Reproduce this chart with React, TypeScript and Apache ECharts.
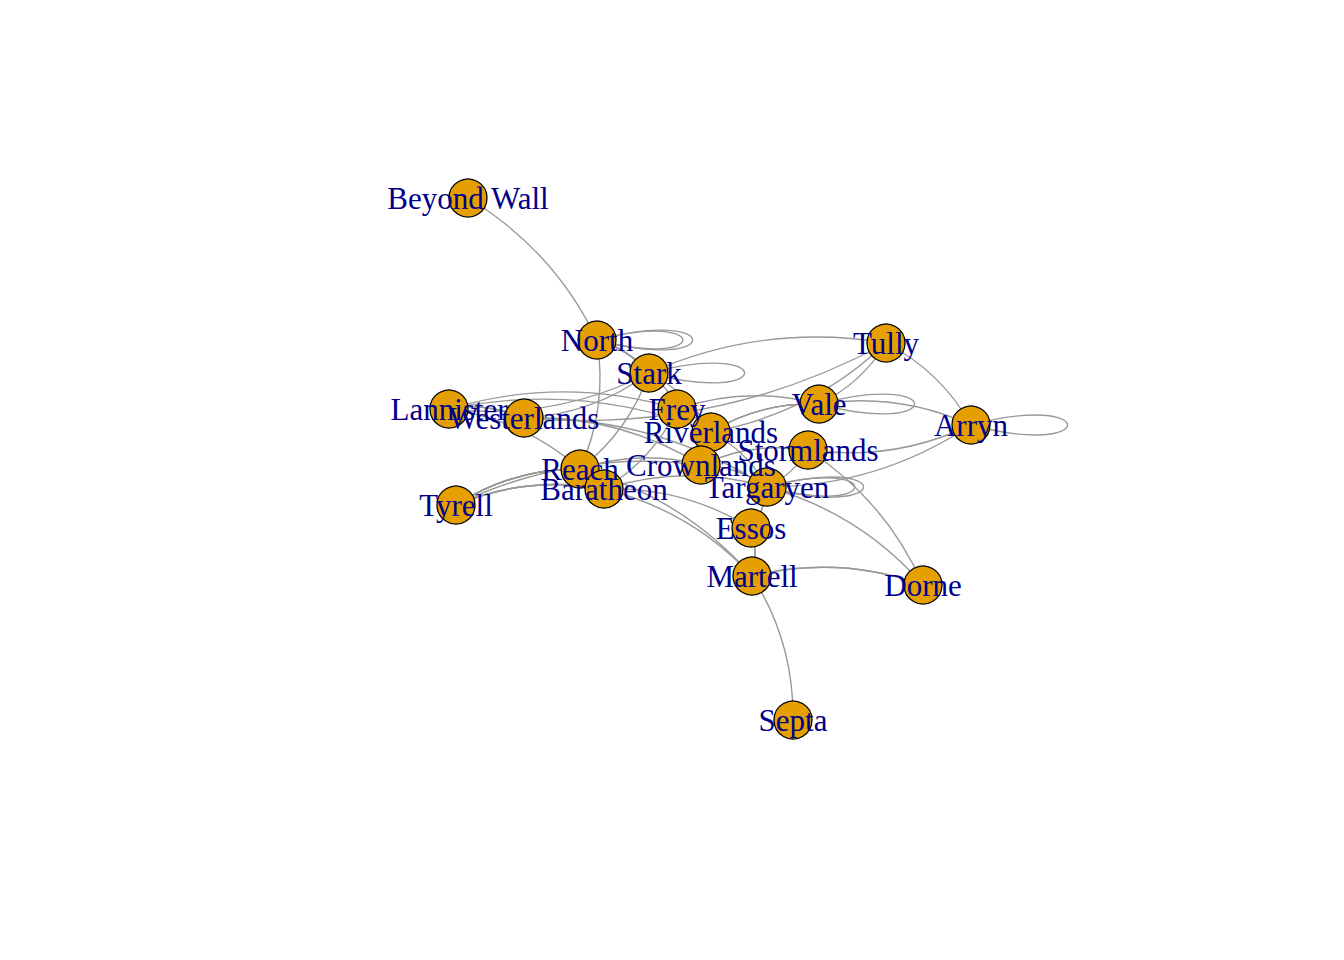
import * as echarts from "echarts";
import { useEffect, useRef } from "react";

const nodeNames = [
  "Beyond Wall", "North", "Stark", "Tully", "Lannister", "Westerlands", "Frey", "Vale", "Arryn", "Riverlands",
  "Stormlands", "Reach", "Crownlands", "Baratheon", "Targaryen", "Tyrell", "Essos", "Martell", "Dorne", "Septa"
];
const nodeX = [468, 597, 649, 886, 449, 524, 677, 819, 971, 711, 808, 580, 701, 604, 767, 456, 751, 752, 923, 793];
const nodeY = [198, 340, 373, 343, 409, 418, 409, 404, 425, 432, 450, 469, 465, 489, 487, 505, 528, 576, 585, 720];

const edgeList: [string, string][] = [
  ["Beyond Wall", "North"], ["North", "Stark"], ["North", "Stark"],
  ["North", "Stark"], ["Stark", "Tully"], ["Stark", "Lannister"], ["Stark", "Westerlands"],
  ["Stark", "Riverlands"], ["Stark", "Frey"], ["Tully", "Riverlands"], ["Tully", "Vale"], ["Tully", "Arryn"],
  ["Tully", "Westerlands"], ["Vale", "Arryn"], ["Arryn", "Stormlands"],
  ["Arryn", "Targaryen"], ["Lannister", "Westerlands"], ["Lannister", "Westerlands"], ["Lannister", "Riverlands"],
  ["Lannister", "Reach"], ["Lannister", "Frey"], ["Tyrell", "Reach"], ["Tyrell", "Reach"], ["Tyrell", "Reach"],
  ["Tyrell", "Reach"], ["Tyrell", "Reach"], ["Tyrell", "Baratheon"], ["Tyrell", "Baratheon"], ["Tyrell", "Baratheon"],
  ["Tyrell", "Crownlands"], ["Reach", "Baratheon"], ["Reach", "Crownlands"], ["Reach", "Martell"],
  ["Baratheon", "Martell"], ["Baratheon", "Essos"], ["Baratheon", "Targaryen"], ["Crownlands", "Targaryen"],
  ["Crownlands", "Stormlands"], ["Targaryen", "Essos"], ["Targaryen", "Essos"],
  ["Essos", "Martell"], ["Essos", "Martell"], ["Martell", "Dorne"], ["Martell", "Dorne"], ["Martell", "Septa"],
  ["Targaryen", "Dorne"], ["Stormlands", "Dorne"], ["Riverlands", "Vale"], ["Riverlands", "Vale"],
  ["Riverlands", "Vale"], ["Frey", "Vale"], ["Frey", "Riverlands"], ["Riverlands", "Targaryen"],
  ["North", "Reach"], ["Westerlands", "Crownlands"], ["Westerlands", "Targaryen"], ["Stormlands", "Targaryen"],
  ["Stark", "Reach"], ["Frey", "Baratheon"]
];

// self-loops: node name and loop reach (px)
const loopNodes = ["North", "North", "Stark", "Vale", "Arryn", "Targaryen", "Targaryen"];
const loopReach = [98, 88, 98, 98, 99, 99, 90];

export default function App() {
  const ref = useRef<HTMLDivElement | null>(null);

  useEffect(() => {
    if (!ref.current) return;
    const chart = echarts.init(ref.current, null, { renderer: "svg" });
    const loopData = loopNodes.map((n, i) => {
      const k = nodeNames.indexOf(n);
      return [nodeX[k], nodeY[k], loopReach[i]];
    });
    chart.setOption({
      animation: false,
      backgroundColor: "#ffffff",
      grid: { left: 0, right: 0, top: 0, bottom: 0 },
      xAxis: { type: "value", min: 0, max: 1344, show: false },
      yAxis: { type: "value", min: 0, max: 960, inverse: true, show: false },
      series: [
        {
          type: "custom",
          coordinateSystem: "cartesian2d",
          z: 1,
          data: loopData,
          renderItem: (_p: any, api: any) => {
            const [cx, cy] = api.coord([api.value(0), api.value(1)]);
            const r = api.value(2);
            return {
              type: "bezierCurve",
              shape: {
                x1: cx, y1: cy, x2: cx, y2: cy,
                cpx1: cx + r * 1.3, cpy1: cy - r * 0.35,
                cpx2: cx + r * 1.3, cpy2: cy + r * 0.35
              },
              style: { stroke: "#999999", lineWidth: 1.4, fill: "none" }
            };
          }
        },
        {
          type: "graph",
          coordinateSystem: "cartesian2d",
          autoCurveness: 12,
          z: 2,
          symbol: "circle",
          symbolSize: 38,
          itemStyle: { color: "#E69F00", borderColor: "#000000", borderWidth: 1.3 },
          label: {
            show: true,
            position: "inside",
            color: "#00008B",
            fontFamily: "Liberation Serif",
            fontSize: 31
          },
          lineStyle: { color: "#999999", width: 1.4, opacity: 1, curveness: 0.15 },
          edgeSymbol: ["none", "none"],
          data: nodeNames.map((name, i) => ({ name, value: [nodeX[i], nodeY[i]] })),
          links: edgeList.map(([source, target]) => ({ source, target }))
        }
      ]
    });
    return () => chart.dispose();
  }, []);

  return <div ref={ref} style={{ width: 1344, height: 960, margin: -8 }} />;
}
